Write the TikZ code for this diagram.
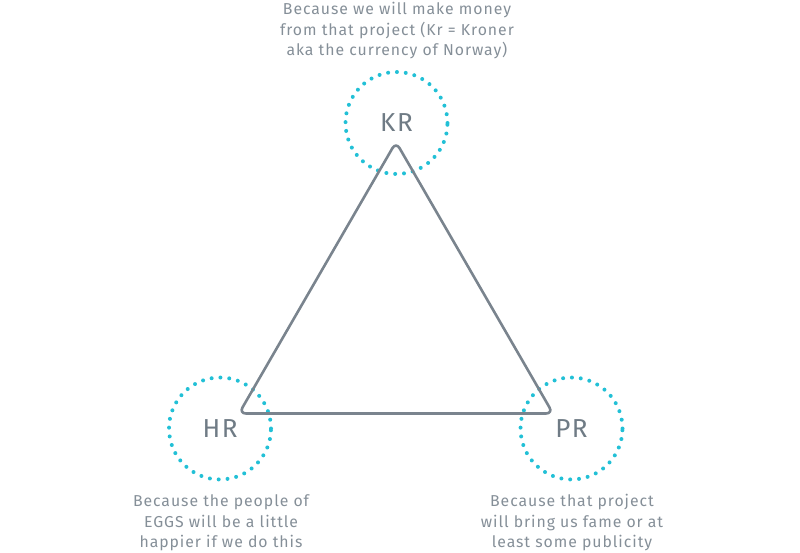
\documentclass[tikz,border=0pt]{standalone}
\usepackage{fontspec}
\setmainfont{Fira Sans}[LetterSpace=6]
\definecolor{txtgray}{HTML}{858F98}
\definecolor{lblgray}{HTML}{6F7B85}
\definecolor{linegray}{HTML}{7A848E}
\definecolor{dotcyan}{HTML}{22C0D6}
\begin{document}
\begin{tikzpicture}[x=1pt,y=-1pt,
  ring/.style={circle,minimum size=102pt,inner sep=0pt,draw=dotcyan,line width=4pt,line cap=round,dash pattern=on 0pt off 8.85pt,text=lblgray,font=\fontsize{26}{28}\selectfont},
  caption/.style={align=center,text=txtgray,font=\fontsize{15.8}{20.5}\selectfont},
  tri/.style={draw=linegray,line width=2.6pt,rounded corners=7pt,line join=round}]
\useasboundingbox (0,0) rectangle (800,553);
\node[ring] (kr) at (396.5,123) {KR};
\node[ring] (hr) at (220,428.5) {HR};
\node[ring] (pr) at (571.5,428.5) {PR};
\coordinate (a) at (396,142);
\coordinate (b) at (239,413.5);
\coordinate (c) at (553,413.5);
\draw[tri] (a) -- (c) -- (b) -- cycle;
\node[caption] (t1) at (397,31) {Because we will make money\\from that project (Kr = Kroner\\aka the currency of Norway)};
\node[caption] (t2) at (221,523) {Because the people of\\EGGS will be a little\\happier if we do this};
\node[caption] (t3) at (572,523) {Because that project\\will bring us fame or at\\least some publicity};
\end{tikzpicture}
\end{document}
